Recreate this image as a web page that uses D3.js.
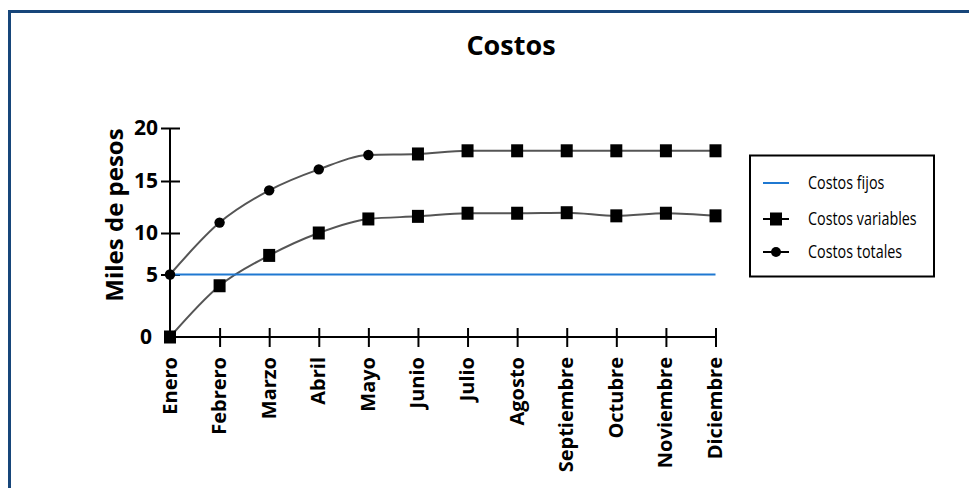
<!DOCTYPE html>
<html>
<head>
<meta charset="utf-8">
<script src="https://cdn.jsdelivr.net/npm/d3@7"></script>
<style>
  html, body { margin: 0; padding: 0; background: #fff; }
  svg { display: block; }
</style>
</head>
<body>
<svg id="chart" width="969" height="488"></svg>
<script>
const months = ["Enero","Febrero","Marzo","Abril","Mayo","Junio","Julio","Agosto","Septiembre","Octubre","Noviembre","Diciembre"];
const costosFijos = [5,5,5,5,5,5,5,5,5,5,5,5];
const costosVariables = [0, 4.1, 7.3, 10, 11.35, 11.6, 11.9, 11.9, 11.95, 11.65, 11.9, 11.65];
const costosTotales = [5, 11, 14.1, 16.1, 17.45, 17.55, 17.85, 17.85, 17.85, 17.85, 17.85, 17.85];
const yTicks = [0, 5, 10, 15, 20];
const seriesNames = ["Costos fijos", "Costos variables", "Costos totales"];

const svg = d3.select("#chart");
const boldFont = "'Open Sans', 'Noto Sans', sans-serif";
const legFont = "'Open Sans', 'Noto Sans', sans-serif";

// Frame
svg.append("rect").attr("x", 9.5).attr("y", 11.5).attr("width", 980).attr("height", 500)
  .attr("fill", "none").attr("stroke", "#17467a").attr("stroke-width", 3);

// Title
svg.append("text").attr("x", 511).attr("y", 55).attr("text-anchor", "middle")
  .attr("font-family", boldFont).attr("font-weight", 700).attr("font-size", 27)
  .text("Costos");

const x = d3.scalePoint().domain(months).range([170, 715.5]);
// The reference's value axis is not evenly spaced; a piecewise-linear scale reproduces it
const y = d3.scaleLinear().domain(yTicks).range([337, 274.5, 233, 181, 128]);

// Y axis
const yAxis = svg.append("g").attr("transform", "translate(170,0)")
  .call(d3.axisLeft(y).tickValues(yTicks).tickSize(10).tickFormat(d3.format("d")));
yAxis.select(".domain").attr("stroke", "#000").attr("stroke-width", 2).attr("d", `M0,${y(0)}V${y(20)}`);
yAxis.selectAll(".tick line").attr("stroke", "#000").attr("stroke-width", 2)
  .attr("x1", 10).attr("x2", -9).attr("display", d => d === 0 ? "none" : null);
yAxis.selectAll(".tick text").attr("x", d => d === 0 ? -18 : -12)
  .attr("font-family", boldFont).attr("font-weight", 700).attr("font-size", 21).attr("fill", "#000");

// X axis
const xAxis = svg.append("g").attr("transform", `translate(0,${y(0)})`)
  .call(d3.axisBottom(x).tickSize(10));
xAxis.select(".domain").attr("stroke", "#000").attr("stroke-width", 2).attr("d", `M${x.range()[0]},0H${x.range()[1]}`);
xAxis.selectAll(".tick line").attr("stroke", "#000").attr("stroke-width", 2)
  .attr("y1", -9).attr("y2", 10).attr("display", (d, i) => i === 0 ? "none" : null);
xAxis.selectAll(".tick text")
  .attr("transform", "rotate(-90)")
  .attr("x", -20).attr("y", -1).attr("dy", "0.35em")
  .attr("text-anchor", "end")
  .attr("font-family", boldFont).attr("font-weight", 700).attr("font-size", 20).attr("fill", "#000");

// Y title
svg.append("text").attr("transform", "translate(115,215) rotate(-90)")
  .attr("text-anchor", "middle").attr("dy", "0.35em")
  .attr("font-family", boldFont).attr("font-weight", 700).attr("font-size", 24)
  .text("Miles de pesos");

// Lines
const line = d3.line().x((d, i) => x(months[i])).y(d => y(d)).curve(d3.curveMonotoneX);
svg.append("path").datum(costosVariables).attr("d", line)
  .attr("fill", "none").attr("stroke", "#555").attr("stroke-width", 2);
svg.append("path").datum(costosTotales).attr("d", line)
  .attr("fill", "none").attr("stroke", "#555").attr("stroke-width", 2);
svg.append("path").datum(costosFijos).attr("d", d3.line().x((d, i) => x(months[i])).y(d => y(d)))
  .attr("fill", "none").attr("stroke", "#1f78d1").attr("stroke-width", 2.2);

// Markers
svg.append("g").selectAll("rect").data(costosVariables).join("rect")
  .attr("x", (d, i) => x(months[i]) - 6).attr("y", d => y(d) - 6.5)
  .attr("width", 12).attr("height", 13).attr("fill", "#000");
// Totals: circles through Mayo, squares from Junio (as in the reference)
const tot = costosTotales.map((v, i) => ({ v, i }));
svg.append("g").selectAll("circle").data(tot.filter(d => d.i < 5)).join("circle")
  .attr("cx", d => x(months[d.i])).attr("cy", d => y(d.v)).attr("r", 5.2).attr("fill", "#000");
svg.append("g").selectAll("rect").data(tot.filter(d => d.i >= 5)).join("rect")
  .attr("x", d => x(months[d.i]) - 6).attr("y", d => y(d.v) - 6.5)
  .attr("width", 12).attr("height", 13).attr("fill", "#000");

// Legend
const lg = svg.append("g");
lg.append("rect").attr("x", 750).attr("y", 155.5).attr("width", 184).attr("height", 121)
  .attr("fill", "#fff").attr("stroke", "#000").attr("stroke-width", 2);
const rows = [183, 219, 252];
seriesNames.forEach((name, i) => {
  const yy = rows[i];
  lg.append("line").attr("x1", 763).attr("x2", 789).attr("y1", yy).attr("y2", yy)
    .attr("stroke", i === 0 ? "#1f78d1" : "#000").attr("stroke-width", 2);
  if (i === 1) lg.append("rect").attr("x", 770).attr("y", yy - 6.5).attr("width", 12).attr("height", 13).attr("fill", "#000");
  if (i === 2) lg.append("circle").attr("cx", 776).attr("cy", yy).attr("r", 5).attr("fill", "#000");
  lg.append("text").attr("transform", `translate(808,${yy}) scale(0.82,1)`).attr("dy", "0.35em")
    .attr("font-family", legFont).attr("font-size", 17.5).attr("fill", "#000").text(name);
});
</script>
</body>
</html>
